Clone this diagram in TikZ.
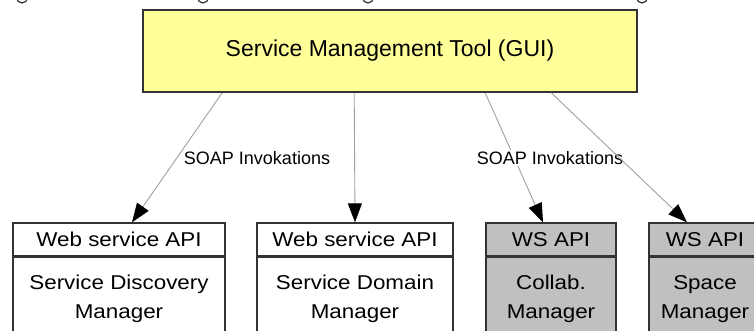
\documentclass[tikz,border=0pt]{standalone}
\usepackage{fontspec}
\setmainfont{Liberation Sans}
\newfontfamily\boxfont{Liberation Sans}[FakeStretch=1.12]
\usetikzlibrary{arrows.meta}
\definecolor{guiyellow}{HTML}{FFFF99}
\definecolor{apigray}{HTML}{C0C0C0}
\definecolor{edgegray}{HTML}{A0A0A0}
\definecolor{framegray}{HTML}{333333}
\tikzset{
  px/.style={x=1pt,y=-1pt},
  guibox/.style={draw=framegray,line width=1.6pt,fill=guiyellow,
    minimum width=494pt,minimum height=82pt,inner sep=0pt,
    font=\fontsize{23}{27}\selectfont},
  hdr/.style={draw=framegray,line width=1.3pt,minimum height=33pt,inner sep=0pt,
    font=\boxfont\fontsize{20}{24}\selectfont},
  body/.style={draw=framegray,line width=1.3pt,minimum height=83pt,inner sep=0pt,
    align=center,font=\boxfont\fontsize{20}{29}\selectfont},
  white box/.style={fill=white},
  gray box/.style={fill=apigray},
  call/.style={draw=edgegray,line width=0.9pt,
    -{Triangle[length=19pt,width=14pt,color=black,fill=black]}},
  calllabel/.style={fill=white,inner sep=1pt,font=\fontsize{18}{20}\selectfont},
  port/.style={circle,draw=framegray,line width=1.2pt,minimum size=11pt,inner sep=0pt}
}
\begin{document}
\begin{tikzpicture}[px]
\useasboundingbox (0,0) rectangle (754,331);
\clip (0,0) rectangle (754,331);

% small ports along the top edge
\node[port] (c1) at (22,-2.5) {};
\node[port] (c2) at (203,-2.5) {};
\node[port] (c3) at (368,-2.5) {};
\node[port] (c4) at (642,-2.5) {};

% management tool
\node[guibox] (gui) at (390,51) {Service Management Tool (GUI)};

% managers with their API headers
\node[hdr,white box,minimum width=212pt] (h1) at (119,239.5) {Web service API};
\node[body,white box,minimum width=212pt,anchor=north] (b1) at (h1.south) {Service Discovery\\Manager};

\node[hdr,white box,minimum width=196pt] (h2) at (355,239.5) {Web service API};
\node[body,white box,minimum width=196pt,anchor=north] (b2) at (h2.south) {Service Domain\\Manager};

\node[hdr,gray box,minimum width=130pt] (h3) at (551,239.5) {WS API};
\node[body,gray box,minimum width=130pt,anchor=north] (b3) at (h3.south) {Collab.\\Manager};

\node[hdr,gray box,minimum width=112pt] (h4) at (705,239.5) {WS API};
\node[body,gray box,minimum width=112pt,anchor=north] (b4) at (h4.south) {Space\\Manager};

% invocation start points on the tool's lower edge
\coordinate (s1) at ([xshift=80pt]gui.south west);
\coordinate (s2) at ([xshift=212pt]gui.south west);
\coordinate (s3) at ([xshift=343pt]gui.south west);
\coordinate (s4) at ([xshift=409pt]gui.south west);

\draw[call] (s1) -- ([xshift=13pt]h1.north);
\node[calllabel] (l1) at (257,158) {SOAP Invokations};
\draw[call] (s2) -- (h2.north);
\draw[call] (s3) -- ([xshift=-8pt]h3.north);
\node[calllabel] (l2) at (550,158) {SOAP Invokations};
\draw[call] (s4) -- ([xshift=-18pt]h4.north);
\end{tikzpicture}
\end{document}
